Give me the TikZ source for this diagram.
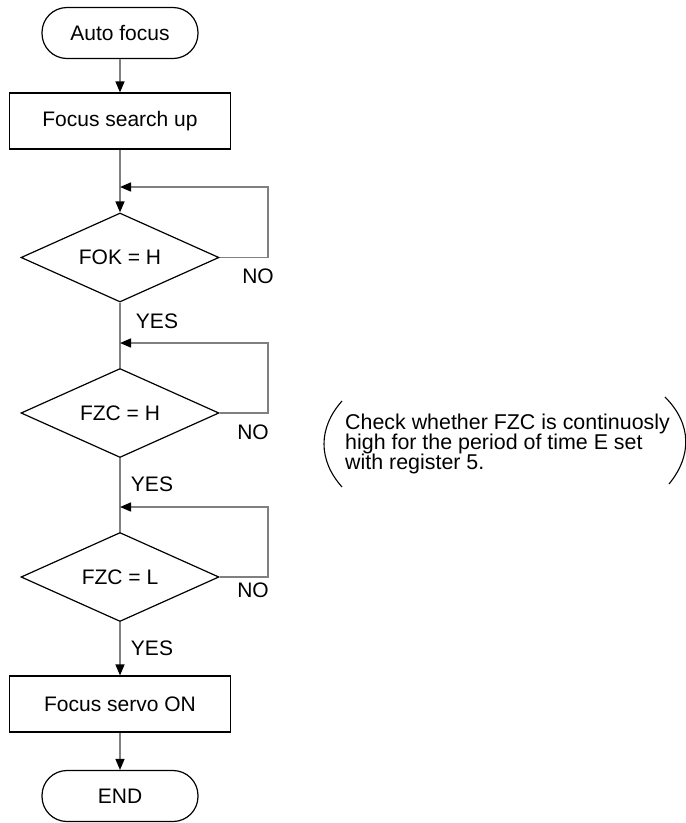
\documentclass[tikz,border=0pt]{standalone}
\usepackage{fontspec}
\setmainfont{Liberation Sans}
\usetikzlibrary{shapes.geometric,arrows.meta}
\definecolor{linegray}{RGB}{128,128,128}
\begin{document}
\begin{tikzpicture}[x=1pt,y=-1pt,
  every node/.style={font=\fontsize{21}{19.5}\selectfont},
  term/.style={draw=black,line width=1.2pt,rounded corners=25pt,minimum width=156pt,minimum height=51pt,inner sep=0},
  procbox/.style={draw=black,line width=1.2pt,minimum width=221pt,minimum height=56pt,inner sep=0},
  decision/.style={draw=black,line width=1.2pt,diamond,aspect=2.22,minimum width=198pt,minimum height=89pt,inner sep=0},
  flow/.style={draw=linegray,line width=1.4pt},
  tip/.style={-{Triangle[length=11pt,width=9pt,color=black]}},
  lbl/.style={inner sep=0},
  notetext/.style={inner sep=0,font=\fontsize{21.4}{20}\selectfont},
  paren/.style={draw=black,line width=1.1pt}
]
\useasboundingbox (0,0) rectangle (686,823);

\node[term] (start) at (120,33) {Auto focus};
\node[procbox] (box1) at (120,121) {Focus search up};
\node[decision] (d1) at (120,257.5) {FOK = H};
\node[decision] (d2) at (120,413) {FZC = H};
\node[decision] (d3) at (120,577) {FZC = L};
\node[procbox] (box2) at (120,704) {Focus servo ON};
\node[term] (end) at (120,796) {END};

\coordinate (j1) at (120,187);
\coordinate (r1) at (268,187);
\coordinate (j2) at (120,343);
\coordinate (r2) at (268,343);
\coordinate (j3) at (120,507);
\coordinate (r3) at (268,507);

\draw[flow,tip] (start) -- (box1);
\draw[flow,tip] (box1) -- (d1);
\draw[flow] (d1) -- (d2);
\draw[flow] (d2) -- (d3);
\draw[flow,tip] (d3) -- (box2);
\draw[flow,tip] (box2) -- (end);

\draw[flow,tip] (d1.east) -| (r1) -- (j1);
\draw[flow,tip] (d2.east) -| (r2) -- (j2);
\draw[flow,tip] (d3.east) -| (r3) -- (j3);

\node[lbl] (no1) at (258,276) {NO};
\node[lbl] (no2) at (253,432) {NO};
\node[lbl] (no3) at (253,590) {NO};
\node[lbl] (yes1) at (157,321) {YES};
\node[lbl] (yes2) at (152,484) {YES};
\node[lbl] (yes3) at (152,648) {YES};

\node[notetext,anchor=west,align=left] (note) at (345,443.5) {Check whether FZC is continuosly\\high for the period of time E set\\with register 5.};
\draw[paren] (342,401) .. controls (318,428) and (318,460) .. (342,487);
\draw[paren] (665,397) .. controls (692,424) and (692,456) .. (669,484);
\end{tikzpicture}
\end{document}
